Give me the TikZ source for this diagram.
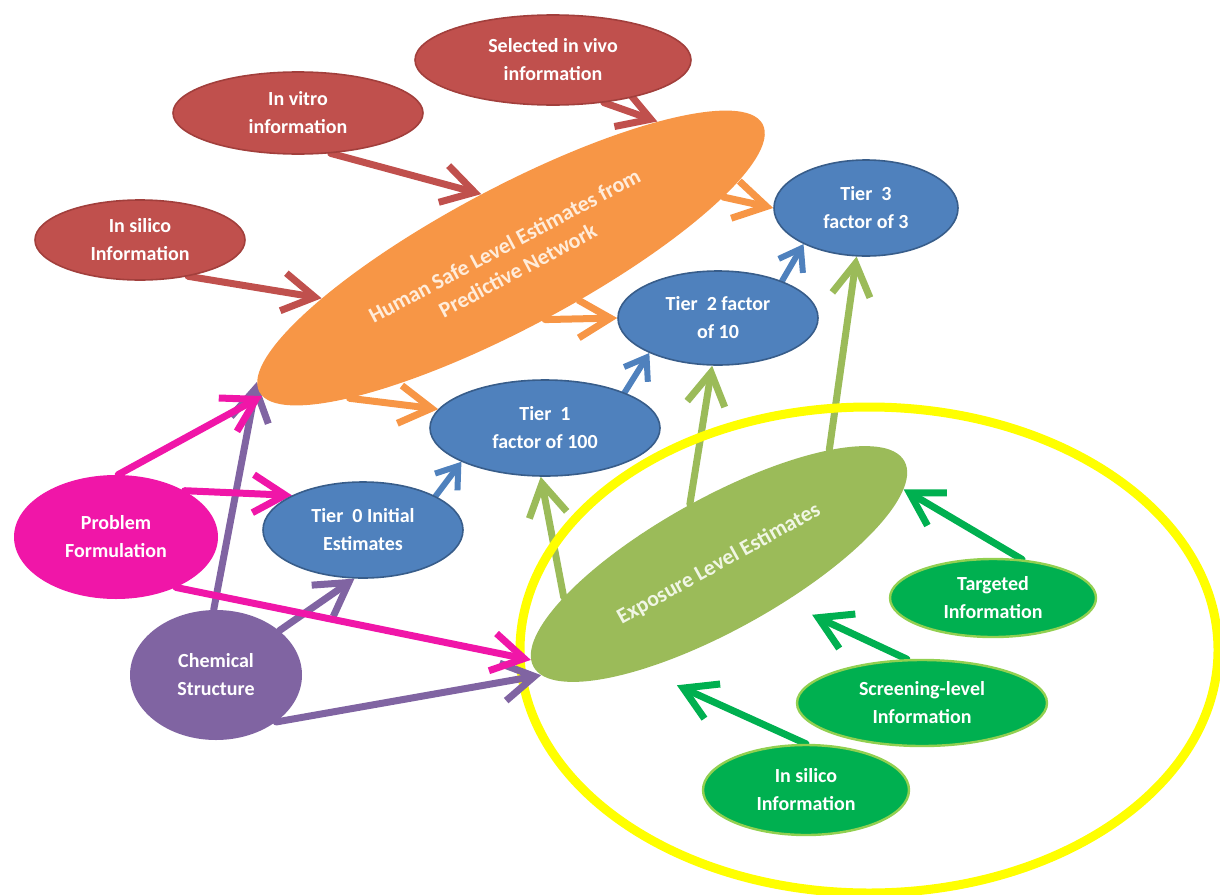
\documentclass[tikz,border=0pt]{standalone}
\usepackage{fontspec}
\setmainfont{Carlito}
\usetikzlibrary{shapes.geometric,arrows.meta,backgrounds}
\definecolor{brick}{HTML}{C0504D}
\definecolor{brickline}{HTML}{A23F3C}
\definecolor{tangerine}{HTML}{F79646}
\definecolor{steel}{HTML}{4F81BD}
\definecolor{steelline}{HTML}{385D8A}
\definecolor{pink}{HTML}{F016A8}
\definecolor{plum}{HTML}{8064A2}
\definecolor{olive}{HTML}{9BBB59}
\definecolor{leaf}{HTML}{00B050}
\definecolor{leafline}{HTML}{92D050}
\definecolor{lemon}{HTML}{FFFF00}

\begin{document}
\begin{tikzpicture}[x=0.5pt,y=-0.5pt,
    blob/.style={ellipse,inner sep=0pt,text=white,align=center,
      font=\fontsize{10}{14}\selectfont\bfseries},
    redblob/.style={blob,fill=brick,draw=brickline,line width=.8pt},
    tierblob/.style={blob,fill=steel,draw=steelline,line width=.8pt},
    infoblob/.style={blob,fill=leaf,draw=leafline,line width=1.2pt},
    link/.style={line width=3.5pt,line cap=round,line join=round,
      -{Straight Barb[length=16pt,width=19pt]}},
    shortlink/.style={link,line width=3pt,-{Straight Barb[length=10pt,width=14pt]}}]
\useasboundingbox (0,0) rectangle (1220,894);

\node[redblob,minimum width=138pt,minimum height=45pt] (vivo) at (553,60) {Selected in vivo\\information};
\node[redblob,minimum width=125pt,minimum height=41pt] (vitro) at (298,113) {In vitro\\information};
\node[redblob,minimum width=105pt,minimum height=40pt] (silico) at (140,240) {In silico\\Information};
\node[blob,fill=tangerine,rotate=28,minimum width=285pt,minimum height=70pt,
  font=\fontsize{11}{14}\selectfont\bfseries,
  text={rgb,255:red,255;green,236;blue,218}] (hsle) at (511,258) {Human Safe Level Estimates from\\Predictive Network};
\node[tierblob,minimum width=92pt,minimum height=48pt] (tier3) at (866,208) {Tier~ 3\\factor of 3};
\node[tierblob,minimum width=100pt,minimum height=47pt] (tier2) at (718,318) {Tier~ 2 factor\\of 10};
\node[tierblob,minimum width=115pt,minimum height=48pt] (tier1) at (545,428) {Tier~ 1\\factor of 100};
\node[tierblob,minimum width=100pt,minimum height=48pt] (tier0) at (363,530) {Tier~ 0 Initial\\Estimates};
\node[blob,fill=pink,minimum width=102pt,minimum height=62pt] (prob) at (116,537) {Problem\\Formulation};
\node[blob,fill=plum,minimum width=86pt,minimum height=65pt] (chem) at (216,675) {Chemical\\Structure};
\node[blob,fill=olive,rotate=29,minimum width=212pt,minimum height=66pt,
  font=\fontsize{11}{14}\selectfont\bfseries,
  text={rgb,255:red,240;green,246;blue,228}] (exp) at (719,564) {Exposure Level Estimates};
\node[infoblob,minimum width=103pt,minimum height=39pt] (targ) at (993,598) {Targeted\\Information};
\node[infoblob,minimum width=125pt,minimum height=43pt] (scr) at (922,703) {Screening-level\\Information};
\node[infoblob,minimum width=103pt,minimum height=45pt] (isl) at (806,790) {In silico\\Information};

\begin{scope}[on background layer]
\draw[link,olive] (exp.163) -- (tier1.265);
\draw[link,olive] (exp.87) -- (tier2.263);
\draw[link,olive] (exp.17) -- (tier3.259);
\draw[lemon,line width=4.5pt] (869,650) ellipse [x radius=349,y radius=243];
\draw[link,brick] (vivo.-40) -- (hsle.15);
\draw[link,brick] (vitro.-51) -- (hsle.87);
\draw[link,brick] (silico.-37) -- (hsle.164);
\draw[link,tangerine] (hsle.-12) -- (tier3.180);
\draw[link,tangerine] (hsle.-89) -- (tier2.180);
\draw[link,tangerine] (hsle.193) -- (tier1.170);
\draw[shortlink,steel] (tier0.25) -- (tier1.202);
\draw[shortlink,steel] (tier1.24) -- (tier2.207);
\draw[shortlink,steel] (tier2.30) -- (tier3.210);
\draw[link,plum] (chem.92) -- (hsle.178);
\draw[link,plum] (chem.35) -- (tier0.260);
\draw[link,plum] (chem.-38) -- (exp.183);
\draw[link,pink] (prob.88) -- (hsle.181);
\draw[link,pink] (prob.34) -- (tier0.154);
\draw[link,pink] (prob.-40) -- (exp.178);
\draw[link,leaf] (targ.53) -- (exp.-7);
\draw[link,leaf,shorten >=15pt] (scr.109) -- (exp.-59);
\draw[link,leaf,shorten >=19pt] (isl.90) -- (exp.205);
\end{scope}
\end{tikzpicture}
\end{document}
